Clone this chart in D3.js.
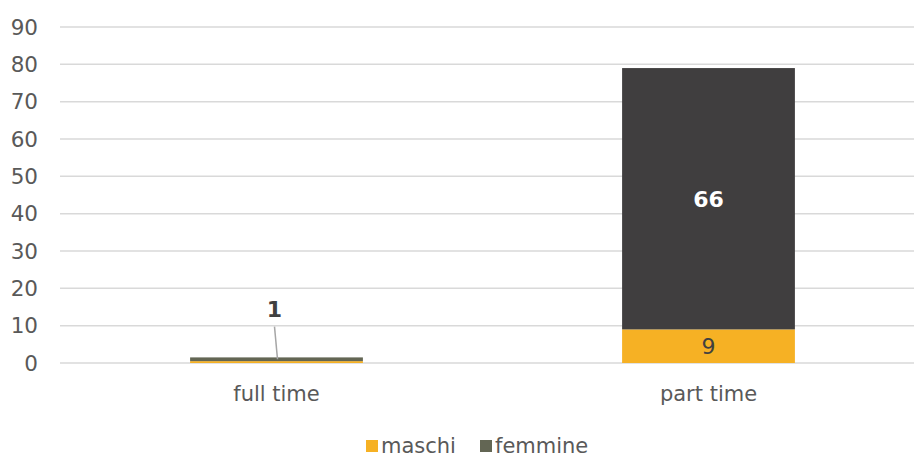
<!DOCTYPE html>
<html>
<head>
<meta charset="utf-8">
<script src="https://cdn.jsdelivr.net/npm/d3@7"></script>
<style>
  body { margin: 0; background: #fff; }
  text { font-family: "DejaVu Sans", sans-serif; }
</style>
</head>
<body>
<script>
var categories = ["full time", "part time"];
var maschi = [0.5, 9];
var femmine = [1, 70];
var maschiLabels = ["", "9"];
var femmineLabels = ["1", "66"];
var yTicks = [0, 10, 20, 30, 40, 50, 60, 70, 80, 90];

var W = 914, H = 457;
var svg = d3.select("body").append("svg")
    .attr("width", W)
    .attr("height", H);

var x = d3.scaleBand()
    .domain(categories)
    .range([60.5, 924.5]);

var y = d3.scaleLinear()
    .domain([0, 90])
    .range([363, 27]);

// grid
svg.append("g").selectAll("line")
    .data(yTicks)
  .enter().append("line")
    .attr("x1", 60)
    .attr("x2", W)
    .attr("y1", function (d) { return y(d); })
    .attr("y2", function (d) { return y(d); })
    .attr("stroke", "#d9d9d9")
    .attr("stroke-width", 1.5);

// y labels
svg.append("g").selectAll("text")
    .data(yTicks)
  .enter().append("text")
    .attr("x", 38)
    .attr("y", function (d) { return y(d); })
    .attr("dy", "0.36em")
    .attr("text-anchor", "end")
    .attr("font-size", 21.5)
    .attr("fill", "#595959")
    .text(function (d) { return d; });

var barW = x.bandwidth() * 0.4;
var rows = categories.map(function (c, i) {
    return { cat: c, m: maschi[i], f: femmine[i], ml: maschiLabels[i], fl: femmineLabels[i] };
});

var bars = svg.append("g");
bars.selectAll(".m")
    .data(rows)
  .enter().append("rect")
    .attr("x", function (d) { return x(d.cat) + x.bandwidth() / 2 - barW / 2; })
    .attr("width", barW)
    .attr("y", function (d) { return y(d.m); })
    .attr("height", function (d) { return y(0) - y(d.m); })
    .attr("fill", "#f6b124");

bars.selectAll(".f")
    .data(rows)
  .enter().append("rect")
    .attr("x", function (d) { return x(d.cat) + x.bandwidth() / 2 - barW / 2; })
    .attr("width", barW)
    .attr("y", function (d) { return y(d.m + d.f); })
    .attr("height", function (d) { return y(d.m) - y(d.m + d.f); })
    .attr("fill", function (d, i) { return i === 1 ? "#403e3f" : "#636654"; });

// data labels
var full = rows[0];
var cx0 = x(full.cat) + x.bandwidth() / 2;
svg.append("line")
    .attr("x1", cx0 - 2)
    .attr("y1", y(10) + 1)
    .attr("x2", cx0 + 1)
    .attr("y2", y(full.m + full.f / 2))
    .attr("stroke", "#a6a6a6")
    .attr("stroke-width", 1.5);
svg.append("text")
    .attr("x", cx0 - 2)
    .attr("y", y(10) - 9)
    .attr("text-anchor", "middle")
    .attr("font-size", 22)
    .attr("font-weight", "bold")
    .attr("fill", "#404040")
    .text(full.fl);

var part = rows[1];
var cx1 = x(part.cat) + x.bandwidth() / 2;
svg.append("text")
    .attr("x", cx1)
    .attr("y", y(part.m + part.f / 2))
    .attr("dy", "0.36em")
    .attr("text-anchor", "middle")
    .attr("font-size", 22)
    .attr("font-weight", "bold")
    .attr("fill", "#ffffff")
    .text(part.fl);
svg.append("text")
    .attr("x", cx1)
    .attr("y", y(part.m / 2))
    .attr("dy", "0.36em")
    .attr("text-anchor", "middle")
    .attr("font-size", 22)
    .attr("fill", "#404040")
    .text(part.ml);

// category labels
svg.append("g").selectAll("text")
    .data(categories)
  .enter().append("text")
    .attr("x", function (d) { return x(d) + x.bandwidth() / 2; })
    .attr("y", 401)
    .attr("text-anchor", "middle")
    .attr("font-size", 21)
    .attr("fill", "#595959")
    .text(function (d) { return d; });

// legend
var legend = [
    { name: "maschi", color: "#f6b124", x: 366 },
    { name: "femmine", color: "#636654", x: 480 }
];
var lg = svg.append("g").selectAll("g")
    .data(legend)
  .enter().append("g")
    .attr("transform", function (d) { return "translate(" + d.x + ",440)"; });
lg.append("rect")
    .attr("width", 12)
    .attr("height", 12)
    .attr("fill", function (d) { return d.color; });
lg.append("text")
    .attr("x", 15)
    .attr("y", 13)
    .attr("font-size", 21)
    .attr("fill", "#595959")
    .text(function (d) { return d.name; });
</script>
</body>
</html>
